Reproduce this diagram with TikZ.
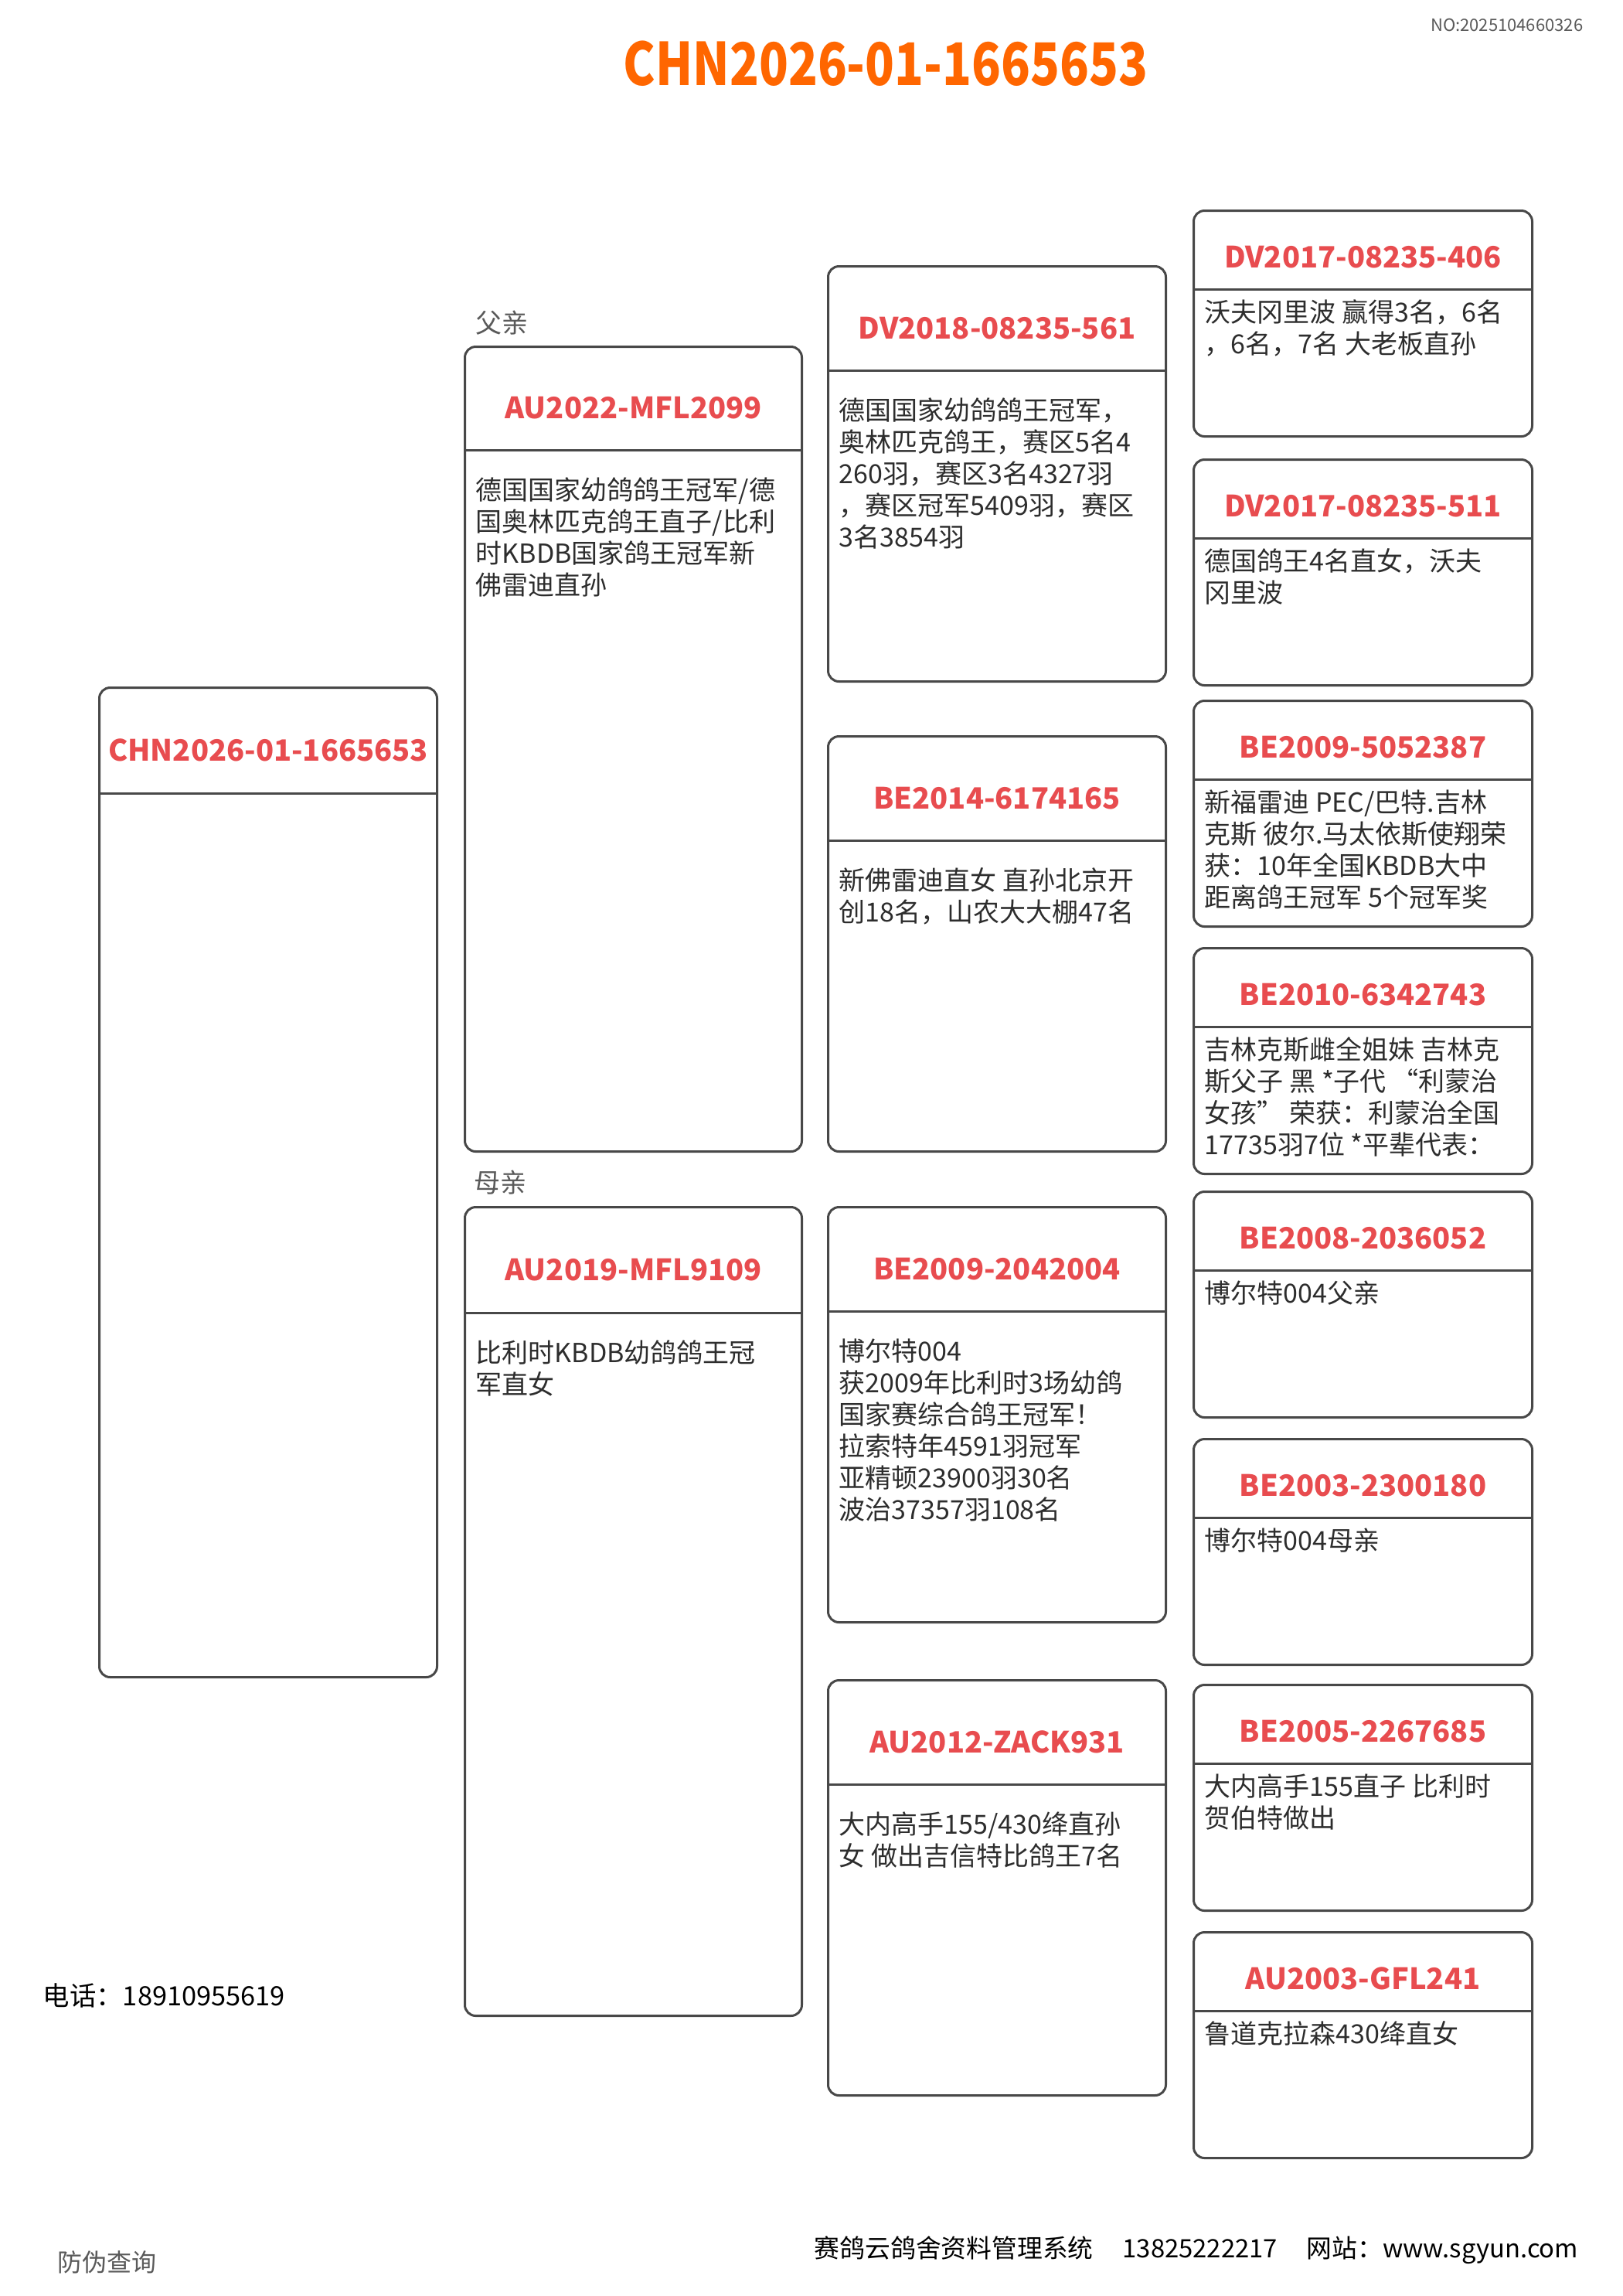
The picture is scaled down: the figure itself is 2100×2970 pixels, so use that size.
\documentclass[tikz,border=0pt]{standalone}
\usepackage{fontspec}
\usepackage{graphicx}
\setmainfont{Noto Sans CJK SC}
\usetikzlibrary{calc}
\definecolor{idred}{RGB}{232,76,79}
\definecolor{titleor}{RGB}{255,102,0}
\definecolor{boxgray}{RGB}{72,72,72}
\definecolor{txtgray}{RGB}{45,45,45}
\definecolor{lblgray}{RGB}{90,90,90}
\tikzset{
 pbox/.style={draw=boxgray, line width=0.75pt, rounded corners=3.5pt, anchor=north west, inner sep=0pt, fill=white},
 pline/.style={draw=boxgray, line width=0.75pt},
 pid/.style={font=\fontsize{9.5pt}{12pt}\selectfont\bfseries, text=idred, inner sep=0pt},
 ptext/.style={font=\fontsize{8.5pt}{10.25pt}\selectfont, text=txtgray, align=left, anchor=north west, inner sep=0pt},
 plabel/.style={font=\fontsize{8.5pt}{9pt}\selectfont, text=lblgray, anchor=west, inner sep=0pt},
}
% name, x, y, w, h, header height, id, body gap, body text
\newcommand\pigbox[9]{%
 \node[pbox, minimum width=#4*0.25pt, minimum height=#5*0.25pt] (#1) at (#2,#3) {};
 \draw[pline] ($(#1.north west)+(0,#6)$) -- ($(#1.north east)+(0,#6)$);
 \node[pid] (#1-id) at ($(#1.north)+(0,#6*0.6)$) {#7};
 \node[ptext] (#1-tx) at ($(#1.north west)+(15,#6+#8)$) {#9};
}
\begin{document}
\begin{tikzpicture}[x=0.25pt,y=-0.25pt]
\useasboundingbox[fill=white] (0,0) rectangle (2100,2970);

\node[font=\fontsize{19pt}{22pt}\selectfont\bfseries, text=titleor, inner sep=0pt] (title) at (1146,82) {\scalebox{0.82}[1]{CHN2026-01-1665653}};
\node[font=\fontsize{5.5pt}{6pt}\selectfont, text=lblgray, anchor=east, inner sep=0pt] (no) at (2049,32) {NO:2025104660326};

% column 1
\pigbox{me}{127}{888}{437}{1280}{138}{CHN2026-01-1665653}{35}{}

% column 2
\node[plabel] (fa) at (615,418) {父亲};
\pigbox{sire}{600}{447}{436}{1041}{135}{AU2022-MFL2099}{35}{德国国家幼鸽鸽王冠军/德\\国奥林匹克鸽王直子/比利\\时KBDB国家鸽王冠军新\\佛雷迪直孙}
\node[plabel] (mo) at (613,1530) {母亲};
\pigbox{dam}{600}{1560}{436}{1046}{138}{AU2019-MFL9109}{35}{比利时KBDB幼鸽鸽王冠\\军直女}

% column 3
\pigbox{ss}{1070}{343}{437}{537}{136}{DV2018-08235-561}{35}{德国国家幼鸽鸽王冠军，\\奥林匹克鸽王，赛区5名4\\260羽，赛区3名4327羽\\，赛区冠军5409羽，赛区\\3名3854羽}
\pigbox{sd}{1070}{951}{437}{537}{136}{BE2014-6174165}{35}{新佛雷迪直女 直孙北京开\\创18名，山农大大棚47名}
\pigbox{ds}{1070}{1560}{437}{537}{136}{BE2009-2042004}{35}{博尔特004\\获2009年比利时3场幼鸽\\国家赛综合鸽王冠军！\\拉索特年4591羽冠军\\亚精顿23900羽30名\\波治37357羽108名}
\pigbox{dd}{1070}{2172}{437}{537}{136}{AU2012-ZACK931}{35}{大内高手155/430绛直孙\\女 做出吉信特比鸽王7名}

% column 4
\pigbox{sss}{1543}{271}{438}{292}{103}{DV2017-08235-406}{13}{沃夫冈里波 赢得3名，6名\\，6名，7名 大老板直孙}
\pigbox{ssd}{1543}{593}{438}{292}{103}{DV2017-08235-511}{13}{德国鸽王4名直女，沃夫\\冈里波}
\pigbox{sds}{1543}{905}{438}{292}{103}{BE2009-5052387}{13}{新福雷迪 PEC/巴特.吉林\\克斯 彼尔.马太依斯使翔荣\\获：10年全国KBDB大中\\距离鸽王冠军 5个冠军奖}
\pigbox{sdd}{1543}{1225}{438}{292}{103}{BE2010-6342743}{13}{吉林克斯雌全姐妹 吉林克\\斯父子 黑 *子代 “利蒙治\\女孩” 荣获：利蒙治全国\\17735羽7位 *平辈代表：}
\pigbox{dss}{1543}{1540}{438}{292}{103}{BE2008-2036052}{13}{博尔特004父亲}
\pigbox{dsd}{1543}{1860}{438}{292}{103}{BE2003-2300180}{13}{博尔特004母亲}
\pigbox{dds}{1543}{2178}{438}{292}{103}{BE2005-2267685}{13}{大内高手155直子 比利时\\贺伯特做出}
\pigbox{ddd}{1543}{2498}{438}{292}{103}{AU2003-GFL241}{13}{鲁道克拉森430绛直女}

% footer
\node[font=\fontsize{8.6pt}{10pt}\selectfont, text=black, anchor=west, inner sep=0pt] (tel) at (55,2581) {电话：18910955619};
\node[plabel, font=\fontsize{8pt}{9pt}\selectfont] (fw) at (74,2926) {防伪查询};
\node[font=\fontsize{8.2pt}{10pt}\selectfont, text=black, anchor=east, inner sep=0pt] (sys) at (2043,2911) {赛鸽云鸽舍资料管理系统\hspace{9.5pt}13825222217\hspace{9.5pt}网站：www.sgyun.com};
\end{tikzpicture}
\end{document}
